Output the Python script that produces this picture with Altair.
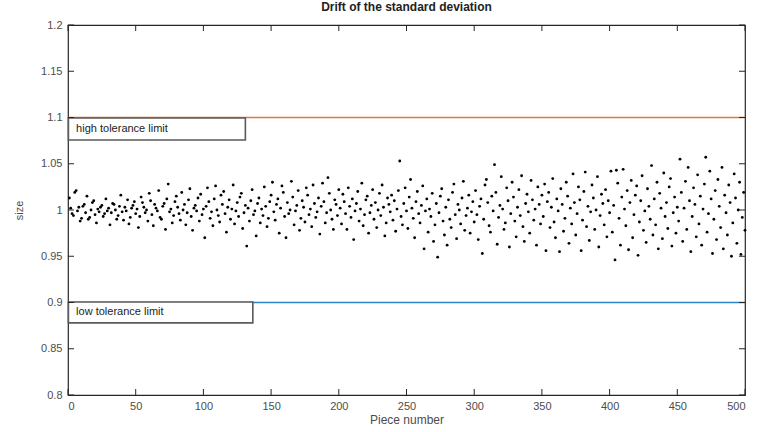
import altair as alt
import pandas as pd

# ---------------- data ----------------
sizes = [
    1.013, 1.002, 0.996, 0.994, 1.019, 1.021, 0.999, 1.003, 0.988, 0.991,
    1.004, 1.006, 0.997, 1.015, 0.990, 0.992, 1.000, 1.008, 1.010, 0.995,
    0.986, 1.001, 0.998, 1.003, 1.005, 0.993, 0.996, 1.012, 0.999, 1.002,
    0.984, 0.997, 1.007, 1.006, 1.000, 0.990, 0.994, 1.004, 1.016, 0.998,
    0.989, 1.003, 0.999, 1.011, 0.985, 0.992, 1.002, 1.005, 1.009, 0.996,
    1.001, 0.981, 0.993, 1.014, 1.008, 1.003, 0.997, 1.000, 0.988, 1.018,
    1.010, 0.995, 0.983, 1.006, 1.002, 0.999, 1.021, 0.992, 0.990, 1.004,
    1.007, 0.979, 1.012, 1.028, 0.998, 1.001, 0.986, 0.994, 1.009, 1.015,
    1.003, 0.996, 0.989, 1.019, 1.000, 1.006, 0.984, 0.997, 1.011, 1.023,
    0.993, 0.978, 1.002, 1.005, 0.999, 1.013, 0.988, 1.017, 0.995, 1.001,
    0.970, 1.004, 1.024, 1.009, 0.991, 0.998, 0.983, 1.012, 1.026, 1.000,
    0.994, 0.987, 1.016, 1.006, 1.020, 0.996, 0.976, 1.003, 1.011, 0.990,
    1.001, 1.027, 0.985, 0.999, 1.008, 0.993, 1.014, 1.018, 0.980, 0.997,
    1.005, 0.961, 1.002, 0.988, 1.010, 1.022, 0.995, 0.999, 0.972, 1.007,
    1.013, 0.986, 1.001, 0.994, 1.025, 1.004, 0.982, 0.991, 1.009, 1.016,
    1.030, 0.998, 0.989, 1.006, 1.012, 0.975, 1.002, 1.026, 1.019, 0.993,
    0.970, 1.008, 0.996, 1.000, 1.031, 1.014, 0.984, 0.999, 1.005, 1.021,
    0.978, 0.991, 1.010, 1.003, 0.987, 1.024, 1.016, 0.995, 1.001, 0.982,
    1.027, 1.007, 0.992, 0.998, 1.013, 0.974, 1.004, 1.029, 1.009, 0.986,
    0.997, 1.035, 1.018, 1.000, 0.990, 0.979, 1.011, 1.006, 0.994, 1.022,
    1.002, 0.985, 1.017, 1.009, 0.996, 0.979, 1.024, 1.004, 0.992, 1.012,
    0.968, 0.999, 1.007, 1.020, 0.988, 1.001, 1.029, 0.983, 0.995, 1.011,
    1.015, 0.975, 0.997, 1.005, 1.022, 0.990, 1.008, 0.981, 1.000, 1.018,
    0.994, 1.027, 1.003, 0.972, 0.986, 1.013, 1.006, 0.998, 1.016, 0.989,
    1.010, 0.977, 1.001, 1.021, 1.053, 0.993, 0.984, 1.007, 1.024, 0.999,
    0.980, 1.014, 1.033, 1.002, 0.991, 0.970, 1.009, 1.020, 0.996, 0.986,
    1.005, 1.026, 0.958, 0.999, 1.012, 0.976, 1.001, 0.993, 1.018, 0.966,
    0.984, 1.007, 0.949, 0.997, 1.015, 1.023, 0.988, 0.973, 1.003, 0.962,
    1.011, 0.990, 0.981, 1.019, 1.028, 0.995, 0.969, 1.006, 1.000, 0.985,
    1.013, 1.031, 0.978, 0.994, 1.002, 1.016, 0.975, 0.998, 1.009, 0.987,
    1.021, 0.995, 0.968, 1.004, 1.012, 0.953, 0.990, 1.027, 1.033, 1.008,
    0.983, 0.976, 1.015, 0.999, 1.049, 1.019, 0.963, 0.992, 1.005, 1.036,
    1.001, 0.979, 0.986, 1.024, 1.010, 0.960, 0.996, 1.030, 1.014, 0.988,
    0.971, 1.003, 1.022, 0.994, 1.037, 0.982, 0.966, 1.007, 1.017, 0.998,
    0.975, 1.032, 1.011, 0.989, 1.001, 0.962, 1.025, 1.006, 0.985, 1.016,
    0.993, 1.028, 0.956, 1.009, 1.019, 0.981, 1.003, 1.034, 0.987, 0.970,
    1.012, 0.999, 0.955, 1.023, 1.006, 0.977, 0.991, 1.030, 1.015, 0.964,
    1.002, 0.985, 1.039, 1.008, 0.973, 0.996, 1.025, 1.011, 0.956, 0.989,
    1.020, 1.041, 0.982, 1.004, 0.967, 0.998, 1.027, 1.013, 0.979, 1.000,
    1.036, 0.960, 0.994, 1.017, 1.007, 0.984, 1.022, 0.971, 1.010, 0.997,
    1.042, 0.976, 1.005, 0.946, 1.043, 1.029, 0.991, 0.962, 1.014, 1.044,
    1.001, 0.983, 1.021, 0.957, 1.008, 1.032, 0.970, 0.995, 1.016, 1.026,
    0.951, 0.987, 1.010, 1.037, 0.978, 0.999, 0.965, 1.023, 1.004, 0.990,
    1.048, 0.973, 1.012, 0.984, 1.030, 0.958, 1.018, 1.002, 0.969, 1.040,
    0.993, 1.008, 0.980, 1.025, 1.034, 0.961, 0.997, 1.014, 0.975, 1.003,
    0.988, 1.055, 1.019, 0.966, 1.002, 1.031, 0.979, 1.046, 1.010, 0.955,
    0.993, 1.024, 1.006, 0.971, 1.038, 0.985, 1.015, 0.962, 1.001, 1.028,
    1.057, 0.976, 0.996, 1.042, 1.012, 0.953, 0.990, 1.021, 0.968, 1.033,
    1.004, 0.981, 1.046, 0.958, 1.016, 0.997, 0.973, 1.027, 1.008, 0.950,
    0.986, 1.039, 1.013, 0.964, 1.000, 1.030, 0.952, 0.992, 1.019, 0.978,
]
pieces = list(range(1, len(sizes) + 1))

limit_values = [1.1, 0.9]
limit_colors = ["#E07A3C", "#2F86C6"]

legend_labels = ["high tolerance limit", "low tolerance limit"]
legend_x1 = [0.3, 0.3]
legend_x2 = [131, 136.5]
legend_y_top = [1.0995, 0.9005]
legend_y_bottom = [1.0757, 0.878]
legend_text_x = [6, 6]

x_ticks = [0, 50, 100, 150, 200, 250, 300, 350, 400, 450, 500]
y_ticks = [0.8, 0.85, 0.9, 0.95, 1.0, 1.05, 1.1, 1.15, 1.2]

W, H = 677, 370
FONT = "Liberation Sans"
GRAY = "#262626"

# ---------------- scales ----------------
xs = alt.Scale(domain=[0, 500], nice=False, zero=False)
ys = alt.Scale(domain=[0.8, 1.2], nice=False, zero=False)

pts_df = pd.DataFrame({"piece": pieces, "size": sizes})
lim_df = pd.DataFrame({"lim": limit_values, "color": limit_colors})
leg_df = pd.DataFrame({
    "label": legend_labels, "x1": legend_x1, "x2": legend_x2,
    "yt": legend_y_top, "yb": legend_y_bottom, "tx": legend_text_x,
})
leg_df["ym"] = (leg_df["yt"] + leg_df["yb"]) / 2
xt_df = pd.DataFrame({"t": x_ticks})
yt_df = pd.DataFrame({"t": y_ticks})

xaxis = alt.Axis(values=x_ticks, format="d", title="Piece number", ticks=False, domain=False,
                 grid=False, labelPadding=5, titlePadding=3, labelFontSize=11, titleFontSize=12,
                 labelColor="#4d4d4d", titleColor="#4d4d4d", labelFont=FONT, titleFont=FONT,
                 titleFontWeight="normal")
yaxis = alt.Axis(values=y_ticks, format="~g", title="size", ticks=False, domain=False,
                 grid=False, labelPadding=6, titlePadding=16, labelFontSize=11, titleFontSize=11,
                 labelColor="#4d4d4d", titleColor="#4d4d4d", labelFont=FONT, titleFont=FONT,
                 titleFontWeight="normal")

points = alt.Chart(pts_df).mark_circle(size=8, color="black", opacity=1).encode(
    x=alt.X("piece:Q", scale=xs, axis=xaxis),
    y=alt.Y("size:Q", scale=ys, axis=yaxis),
)

lines = alt.Chart(lim_df).mark_rule(strokeWidth=1.3).encode(
    y=alt.Y("lim:Q", scale=ys),
    x=alt.value(0), x2=alt.value(W),
    color=alt.Color("color:N", scale=None),
)

boxes = alt.Chart(leg_df).mark_rect(fill="white", stroke="#5a5a5a", strokeWidth=1.6).encode(
    x=alt.X("x1:Q", scale=xs), x2="x2:Q",
    y=alt.Y("yt:Q", scale=ys), y2="yb:Q",
)

texts = alt.Chart(leg_df).mark_text(align="left", baseline="middle", font=FONT, fontSize=11,
                                     color="#222222").encode(
    x=alt.X("tx:Q", scale=xs), y=alt.Y("ym:Q", scale=ys), text="label:N",
)

tick_b = alt.Chart(xt_df).mark_rule(color=GRAY).encode(
    x=alt.X("t:Q", scale=xs), y=alt.value(H), y2=alt.value(H - 6))
tick_t = alt.Chart(xt_df).mark_rule(color=GRAY).encode(
    x=alt.X("t:Q", scale=xs), y=alt.value(0), y2=alt.value(6))
tick_l = alt.Chart(yt_df).mark_rule(color=GRAY).encode(
    y=alt.Y("t:Q", scale=ys), x=alt.value(0), x2=alt.value(6))
tick_r = alt.Chart(yt_df).mark_rule(color=GRAY).encode(
    y=alt.Y("t:Q", scale=ys), x=alt.value(W - 6), x2=alt.value(W))

chart = alt.layer(points, lines, boxes, texts, tick_b, tick_t, tick_l, tick_r).properties(
    width=W, height=H,
    title=alt.TitleParams("Drift of the standard deviation", font=FONT, fontSize=12,
                          fontWeight="bold", color="#222222", anchor="middle", offset=5),
    autosize=alt.AutoSizeParams(type="none"),
    padding={"left": 68, "top": 25, "right": 12, "bottom": 37},
    background="white",
).configure_view(stroke=GRAY, strokeWidth=1.2)

chart.save("out.html", embed_options={"renderer": "svg", "actions": False})
